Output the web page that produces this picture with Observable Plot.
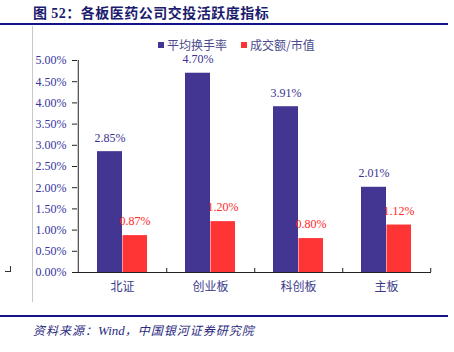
<!DOCTYPE html>
<html>
<head>
<meta charset="utf-8">
<script src="https://cdn.jsdelivr.net/npm/d3@7"></script>
<script src="https://cdn.jsdelivr.net/npm/@observablehq/plot@0.6"></script>
<style>
  html, body { margin: 0; padding: 0; background: #fff; }
  #wrap { position: relative; width: 454px; height: 352px; overflow: hidden; }
  #wrap svg { position: absolute; left: 0; top: 0; }
  .abs { position: absolute; }
  #title { left: 33px; top: 2px; font: bold 14px "Noto Sans CJK SC", "Liberation Serif", serif; color: #1c1c6e; letter-spacing: 0.5px; white-space: nowrap; }
  #title .num { font-family: "Liberation Serif", serif; }
  .rule { background: #14148a; height: 2px; left: 0; width: 448px; }
  #vline { left: 32px; top: 26px; width: 1px; height: 276px; background: #c8c8c8; }
  #lmark1 { left: 10px; top: 266px; width: 1px; height: 6px; background: #333; }
  #lmark2 { left: 5px; top: 271px; width: 6px; height: 1px; background: #333; }
  #legend { left: 158px; top: 36px; font: 12px "Noto Sans CJK SC", sans-serif; color: #4a4a8c; white-space: nowrap; display: flex; align-items: center; }
  .sw { display: inline-block; width: 6px; height: 6px; margin-right: 3px; }
  #source { left: 33px; top: 321px; font: italic 12px "Noto Sans CJK SC", sans-serif; color: #2a2a80; white-space: nowrap; letter-spacing: 1px; }
  #source .w { font-family: "Liberation Serif", serif; font-size: 13px; letter-spacing: 0; }
</style>
</head>
<body>
<div id="wrap">
  <div id="vline" class="abs"></div>
  <div id="lmark1" class="abs"></div>
  <div id="lmark2" class="abs"></div>
  <div id="title" class="abs">图 <span class="num">52</span>：各板医药公司交投活跃度指标</div>
  <div class="abs rule" style="top:23px"></div>
  <div class="abs rule" style="top:315px"></div>
  <div id="legend" class="abs"></div>
  <div id="source" class="abs">资料来源：<span class="w">Wind</span>，中国银河证券研究院</div>
</div>
<script>
const categories = ["北证", "创业板", "科创板", "主板"];
const turnover = [0.0285, 0.0470, 0.0391, 0.0201];   // 平均换手率
const amountRatio = [0.0087, 0.0120, 0.0080, 0.0112]; // 成交额/市值
const seriesNames = ["平均换手率", "成交额/市值"];
const yTicks = [0, 0.005, 0.01, 0.015, 0.02, 0.025, 0.03, 0.035, 0.04, 0.045, 0.05];

const blue = "#433692";
const red = "#ff3535";
const pct = d3.format(".2%");

const rowsA = categories.map((c, i) => ({cat: c, v: turnover[i]}));
const rowsB = categories.map((c, i) => ({cat: c, v: amountRatio[i]}));

const W = 454, H = 352, mL = 77, mR = 23, mT = 60, mB = 80;
const bw = (W - mL - mR) / categories.length;
const plotH = H - mT - mB;

const chart = Plot.plot({
  width: W, height: H,
  marginLeft: mL, marginRight: mR, marginTop: mT, marginBottom: mB,
  style: {fontFamily: "Liberation Serif, serif", fontSize: "12px", background: "transparent", overflow: "visible"},
  x: {domain: categories, padding: 0, axis: null},
  y: {domain: [0, 0.05], axis: null},
  marks: [
    Plot.axisY({ticks: yTicks, tickFormat: pct, tickSize: 5, tickPadding: 6, label: null,
      stroke: "#222", fill: "#3636a0", fontSize: 12}),
    Plot.axisX({tickSize: 0, tickPadding: 10, label: null, fill: "#3c3c8c",
      fontFamily: "Noto Sans CJK SC, sans-serif", fontSize: 12}),
    Plot.barY(rowsA, {x: "cat", y: "v", fill: blue, insetLeft: 19, insetRight: bw - 19 - 25.5}),
    Plot.barY(rowsB, {x: "cat", y: "v", fill: red, insetLeft: 44.5, insetRight: bw - 44.5 - 25}),
    Plot.ruleY([0], {stroke: "#222", strokeWidth: 1}),
    Plot.ruleX([categories[0]], {x: d => d, dx: -bw / 2, stroke: "#222"}),
    Plot.ruleX(categories, {x: d => d, dx: bw / 2, stroke: "#222", insetTop: plotH - 4}),
    Plot.text(rowsA, {x: "cat", y: "v", text: d => pct(d.v), dx: -12.5, dy: -14, fill: "#3a3290", fontSize: 12}),
    Plot.text(rowsB, {x: "cat", y: "v", text: d => pct(d.v), dx: 12.5, dy: -14, fill: "#ff2a2a", fontSize: 12})
  ]
});
document.getElementById("wrap").appendChild(chart);

const legend = document.getElementById("legend");
[[blue, seriesNames[0]], [red, seriesNames[1]]].forEach(([c, name], i) => {
  const sp = document.createElement("span");
  sp.style.display = "inline-flex";
  sp.style.alignItems = "center";
  sp.style.marginRight = i === 0 ? "14px" : "0";
  sp.innerHTML = `<span class="sw" style="background:${c}"></span>${name}`;
  legend.appendChild(sp);
});
</script>
</body>
</html>
